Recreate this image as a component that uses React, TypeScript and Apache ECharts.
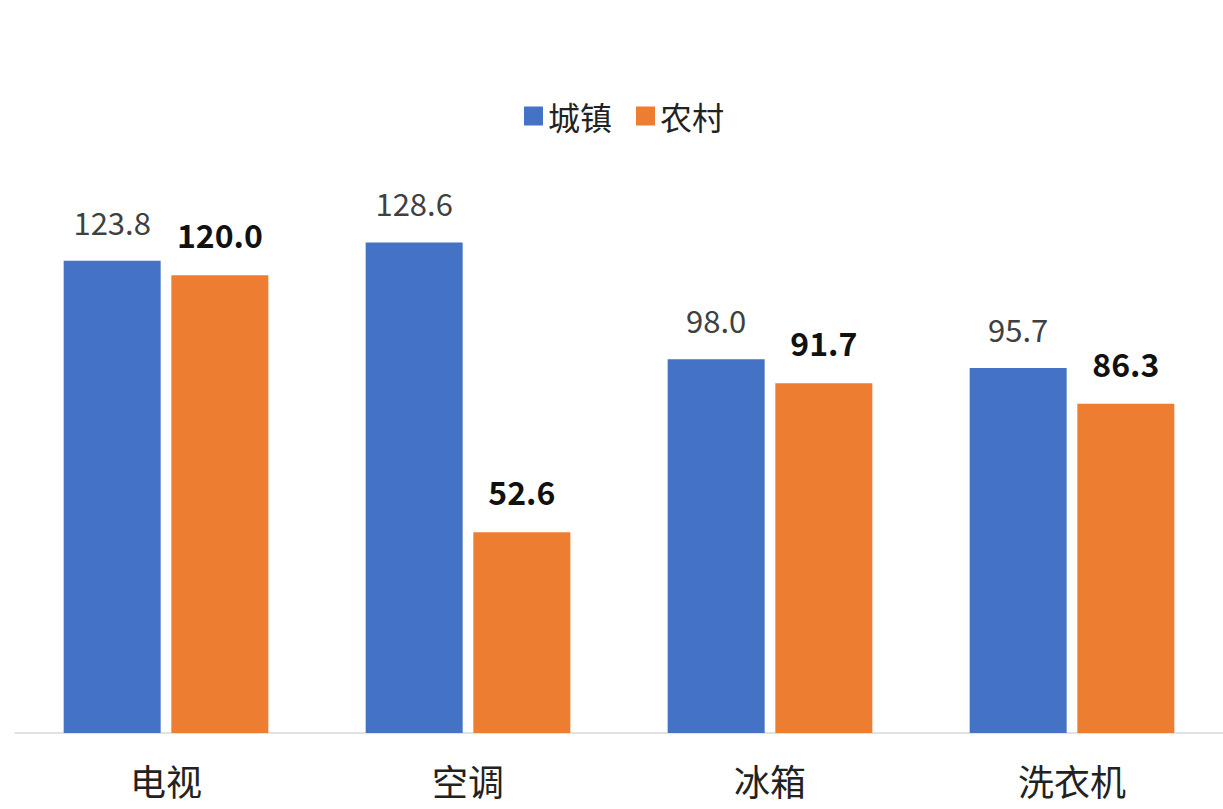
import React, { useEffect, useRef } from "react";
import * as echarts from "echarts";

const categories = ["电视", "空调", "冰箱", "洗衣机"];
const urbanValues = [123.8, 128.6, 98.0, 95.7];
const ruralValues = [120.0, 52.6, 91.7, 86.3];
const seriesNames = ["城镇", "农村"];

const FONT = "'Microsoft YaHei', 'Noto Sans CJK SC', sans-serif";

export default function App() {
  const ref = useRef<HTMLDivElement>(null);
  useEffect(() => {
    if (!ref.current) return;
    const chart = echarts.init(ref.current, null, { renderer: "svg" });
    chart.setOption({
      animation: false,
      textStyle: { fontFamily: FONT },
      legend: {
        top: 100,
        left: 524,
        padding: 0,
        itemWidth: 19,
        itemHeight: 19,
        itemGap: 24,
        icon: "rect",
        textStyle: { fontSize: 32, color: "#222", fontFamily: FONT },
        data: seriesNames,
      },
      grid: { left: 15, width: 1211, top: 199, bottom: 76, containLabel: false },
      xAxis: {
        type: "category",
        data: categories,
        axisLine: { lineStyle: { color: "#d9d9d9", width: 1.5 } },
        axisTick: { show: false },
        axisLabel: { fontSize: 36, lineHeight: 38, color: "#222", margin: 28, fontFamily: FONT },
      },
      yAxis: {
        type: "value",
        min: 0,
        max: 140,
        show: false,
        splitLine: { show: false },
      },
      series: [
        {
          name: seriesNames[0],
          type: "bar",
          data: urbanValues,
          barWidth: 97,
          barGap: "11%",
          itemStyle: { color: "#4472C4" },
          label: {
            show: true,
            position: "top",
            distance: 24,
            fontSize: 31,
            color: "#404040",
            fontFamily: FONT,
            formatter: (p: any) => p.value.toFixed(1),
          },
        },
        {
          name: seriesNames[1],
          type: "bar",
          data: ruralValues,
          barWidth: 97,
          itemStyle: { color: "#ED7D31" },
          label: {
            show: true,
            position: "top",
            distance: 25,
            fontSize: 32,
            fontWeight: "bold",
            color: "#111",
            fontFamily: FONT,
            formatter: (p: any) => p.value.toFixed(1),
          },
        },
      ],
    });
    return () => chart.dispose();
  }, []);
  return <div ref={ref} style={{ width: 1223, height: 809, position: "absolute", left: 0, top: 0, background: "#fff", overflow: "hidden" }} />;
}
